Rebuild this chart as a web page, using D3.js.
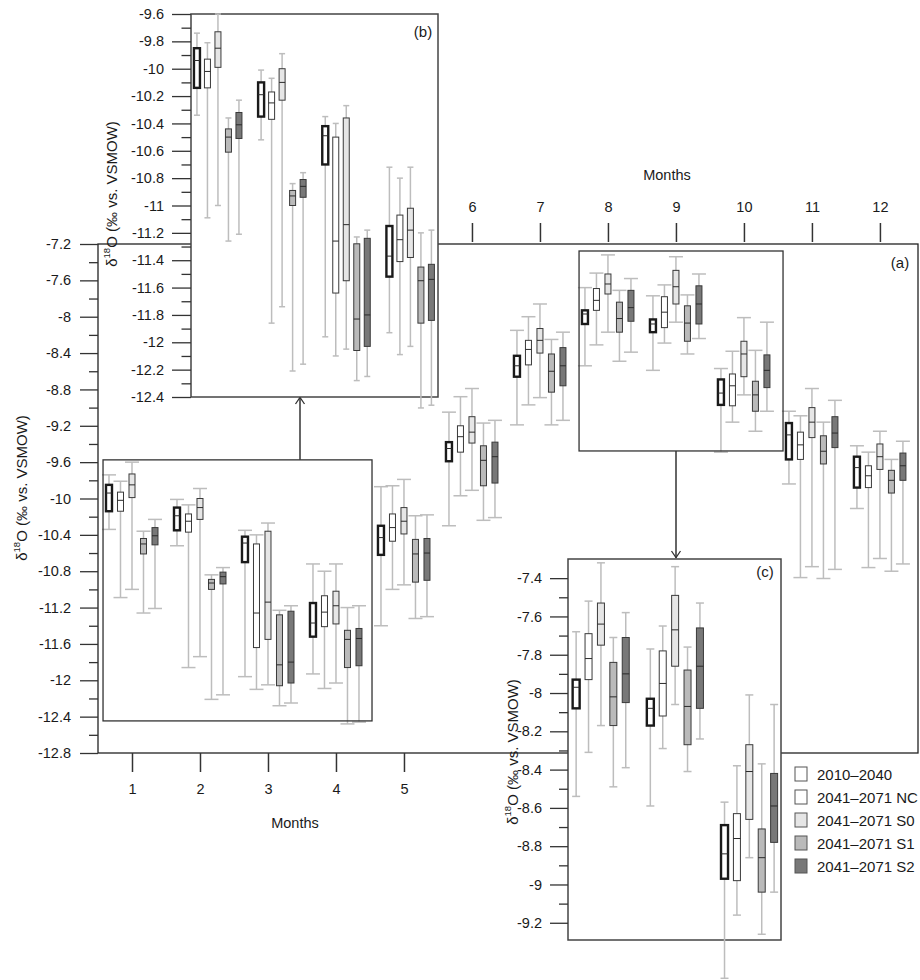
<!DOCTYPE html>
<html>
<head>
<meta charset="utf-8">
<script src="https://cdn.jsdelivr.net/npm/d3@7"></script>
<style>
  body { margin: 0; background: #fff; }
  text { font-family: "Liberation Sans", Arial, sans-serif; fill: #1a1a1a; }
</style>
</head>
<body>
<script>
// months and series
const months = [1, 2, 3, 4, 5, 6, 7, 8, 9, 10, 11, 12];
const seriesNames = ["2010\u20132040", "2041\u20132071 NC", "2041\u20132071 S0", "2041\u20132071 S1", "2041\u20132071 S2"];
const seriesFill = ["#ffffff", "#ffffff", "#e6e6e6", "#bababa", "#787878"];

// per month: [whisker low, q1, median, q3, whisker high]
const s2010 = [
  [-10.34, -10.14, -9.94, -9.85, -9.74], [-10.52, -10.35, -10.19, -10.10, -10.01],
  [-11.96, -10.70, -10.49, -10.42, -10.35], [-11.93, -11.52, -11.37, -11.15, -10.72],
  [-11.40, -10.62, -10.43, -10.30, -9.87], [-10.30, -9.59, -9.45, -9.38, -9.05],
  [-9.19, -8.66, -8.54, -8.43, -8.15], [-8.54, -8.08, -7.97, -7.93, -7.68],
  [-8.59, -8.17, -8.08, -8.03, -7.77], [-9.49, -8.97, -8.84, -8.69, -8.57],
  [-9.84, -9.57, -9.30, -9.17, -9.04], [-10.11, -9.88, -9.66, -9.54, -9.42]
];
const sNC = [
  [-11.09, -10.14, -10.02, -9.93, -9.81], [-11.86, -10.37, -10.25, -10.17, -10.07],
  [-12.10, -11.64, -11.26, -10.50, -10.40], [-12.09, -11.41, -11.25, -11.07, -10.80],
  [-11.00, -10.47, -10.32, -10.17, -9.86], [-9.97, -9.49, -9.32, -9.20, -8.88],
  [-8.97, -8.53, -8.36, -8.26, -8.00], [-8.31, -7.93, -7.82, -7.69, -7.52],
  [-8.29, -8.12, -7.95, -7.78, -7.65], [-9.16, -8.98, -8.76, -8.63, -8.38],
  [-10.87, -9.57, -9.41, -9.27, -9.09], [-10.76, -9.88, -9.75, -9.64, -9.49]
];
const sS0 = [
  [-11.00, -9.99, -9.85, -9.73, -9.60], [-11.74, -10.23, -10.10, -10.00, -9.89],
  [-12.05, -11.55, -11.14, -10.36, -10.27], [-12.03, -11.38, -11.18, -11.02, -10.72],
  [-10.95, -10.39, -10.25, -10.10, -9.79], [-9.91, -9.39, -9.27, -9.10, -8.79],
  [-8.89, -8.40, -8.26, -8.13, -7.86], [-8.17, -7.75, -7.64, -7.53, -7.32],
  [-8.06, -7.86, -7.67, -7.49, -7.34], [-8.86, -8.66, -8.41, -8.27, -8.01],
  [-10.75, -9.33, -9.16, -9.00, -8.79], [-10.66, -9.68, -9.54, -9.40, -9.26]
];
const sS1 = [
  [-11.26, -10.61, -10.50, -10.44, -10.36], [-12.21, -11.00, -10.93, -10.89, -10.84],
  [-12.28, -12.06, -11.83, -11.28, -11.23], [-12.48, -11.86, -11.55, -11.45, -11.20],
  [-11.32, -10.92, -10.61, -10.45, -10.19], [-10.24, -9.86, -9.58, -9.42, -9.17],
  [-9.19, -8.83, -8.60, -8.41, -8.25], [-8.49, -8.17, -8.02, -7.84, -7.71],
  [-8.41, -8.27, -8.07, -7.88, -7.76], [-9.26, -9.04, -8.86, -8.71, -8.37],
  [-10.88, -9.62, -9.48, -9.31, -9.16], [-10.80, -9.94, -9.80, -9.69, -9.57]
];
const sS2 = [
  [-11.21, -10.51, -10.41, -10.32, -10.23], [-12.16, -10.94, -10.86, -10.81, -10.76],
  [-12.25, -12.03, -11.80, -11.24, -11.18], [-12.46, -11.84, -11.54, -11.43, -11.18],
  [-11.30, -10.90, -10.60, -10.44, -10.18], [-10.21, -9.83, -9.54, -9.38, -9.14],
  [-9.14, -8.76, -8.54, -8.34, -8.17], [-8.39, -8.05, -7.90, -7.71, -7.58],
  [-8.24, -8.08, -7.86, -7.66, -7.53], [-9.04, -8.78, -8.59, -8.42, -8.06],
  [-10.78, -9.44, -9.28, -9.10, -8.92], [-10.72, -9.80, -9.64, -9.50, -9.37]
];
const allSeries = [s2010, sNC, sS0, sS1, sS2];

// tick labels
const mainTicks = d3.range(0, 15).map(i => -7.2 - 0.4 * i);
const bTicks = d3.range(0, 15).map(i => -9.6 - 0.2 * i);
const cTicks = d3.range(0, 10).map(i => -7.4 - 0.2 * i);

// flatten for joins
const records = [];
allSeries.forEach((s, si) => s.forEach((v, mi) => {
  records.push({ month: months[mi], series: si, lo: v[0], q1: v[1], md: v[2], q3: v[3], hi: v[4] });
}));

const svg = d3.select('body').append('svg')
  .attr('width', 920)
  .attr('height', 980);

const fmt = v => String(+v.toFixed(1));

function drawBoxes(g, x, y, monthList, sp, bw, capw) {
  const off = d3.scalePoint().domain(d3.range(5)).range([-2 * sp, 2 * sp]);
  const data = records.filter(d => monthList.includes(d.month));
  const cx = d => x(d.month) + off(d.series);
  const grp = g.selectAll('g.box').data(data).join('g').attr('class', 'box');
  grp.append('line')
    .attr('x1', cx).attr('x2', cx)
    .attr('y1', d => y(d.lo)).attr('y2', d => y(d.hi))
    .attr('stroke', '#bdbdbd').attr('stroke-width', 1.5);
  ['lo', 'hi'].forEach(k => {
    grp.append('line')
      .attr('x1', d => cx(d) - capw / 2).attr('x2', d => cx(d) + capw / 2)
      .attr('y1', d => y(d[k])).attr('y2', d => y(d[k]))
      .attr('stroke', '#bdbdbd').attr('stroke-width', 1.5);
  });
  grp.append('rect')
    .attr('x', d => cx(d) - bw / 2)
    .attr('y', d => y(d.q3))
    .attr('width', bw)
    .attr('height', d => y(d.q1) - y(d.q3))
    .attr('fill', d => seriesFill[d.series])
    .attr('stroke', d => d.series == 0 ? '#1a1a1a' : '#3a3a3a')
    .attr('stroke-width', d => d.series == 0 ? 2.4 : 1);
  grp.append('line')
    .attr('x1', d => cx(d) - bw / 2).attr('x2', d => cx(d) + bw / 2)
    .attr('y1', d => y(d.md)).attr('y2', d => y(d.md))
    .attr('stroke', '#2a2a2a').attr('stroke-width', 1);
}

function yAxis(g, y, majors, xpos, majLen, pad) {
  const minors = [];
  majors.slice(0, -1).forEach((v, i) => minors.push((v + majors[i + 1]) / 2));
  g.append('g').attr('transform', `translate(${xpos},0)`)
    .call(d3.axisLeft(y).tickValues(majors).tickSize(majLen).tickSizeOuter(0).tickPadding(pad).tickFormat(fmt))
    .call(a => a.select('.domain').remove())
    .call(a => a.selectAll('line').attr('stroke', '#333').attr('stroke-width', 1.3))
    .call(a => a.selectAll('text').attr('font-size', 14.5).attr('fill', '#1a1a1a')
      .attr('font-family', '"Liberation Sans", Arial, sans-serif'));
  g.append('g').attr('transform', `translate(${xpos},0)`)
    .call(d3.axisLeft(y).tickValues(minors).tickSize(majLen / 2).tickFormat(''))
    .call(a => a.select('.domain').remove())
    .call(a => a.selectAll('line').attr('stroke', '#333').attr('stroke-width', 1.3));
}

function yTitle(g, x, y) {
  const t = g.append('text')
    .attr('transform', `translate(${x},${y}) rotate(-90)`)
    .attr('text-anchor', 'middle')
    .attr('dominant-baseline', 'central')
    .attr('font-size', 15);
  t.append('tspan').text('\u03b4');
  t.append('tspan').attr('font-size', 9.5).attr('dy', -5).text('18');
  t.append('tspan').attr('dy', 5).text('O (\u2030 vs. VSMOW)');
}

// ---------- main panel (a)
const xMain = d3.scaleLinear().domain([0.5, 12.56]).range([98, 918]);
const yMain = d3.scaleLinear().domain([-12.8, -7.2]).range([753, 244]);

const gA = svg.append('g');
gA.append('rect')
  .attr('x', xMain(0.5)).attr('y', yMain(-7.2))
  .attr('width', xMain(12.56) - xMain(0.5)).attr('height', yMain(-12.8) - yMain(-7.2))
  .attr('fill', 'none').attr('stroke', '#222').attr('stroke-width', 1.3);
yAxis(gA, yMain, mainTicks, xMain(0.5), 18, 9);

gA.append('g').attr('transform', `translate(0,${yMain(-12.8)})`)
  .call(d3.axisBottom(xMain).tickValues([1, 2, 3, 4, 5]).tickSize(19).tickPadding(12).tickFormat(d3.format('d')))
  .call(a => a.select('.domain').remove())
  .call(a => a.selectAll('line').attr('stroke', '#333').attr('stroke-width', 1.5))
  .call(a => a.selectAll('text').attr('font-size', 14.5).attr('fill', '#1a1a1a')
    .attr('font-family', '"Liberation Sans", Arial, sans-serif'));
gA.append('g').attr('transform', `translate(0,${yMain(-7.2) - 2})`)
  .call(d3.axisTop(xMain).tickValues([6, 7, 8, 9, 10, 11, 12]).tickSize(19).tickPadding(11).tickFormat(d3.format('d')))
  .call(a => a.select('.domain').remove())
  .call(a => a.selectAll('line').attr('stroke', '#333').attr('stroke-width', 1.5))
  .call(a => a.selectAll('text').attr('font-size', 14.5).attr('fill', '#1a1a1a')
    .attr('font-family', '"Liberation Sans", Arial, sans-serif'));

gA.append('text').attr('x', 295).attr('y', 828).attr('text-anchor', 'middle').attr('font-size', 14.5).text('Months');
gA.append('text').attr('x', 667).attr('y', 180).attr('text-anchor', 'middle').attr('font-size', 14.5).text('Months');
gA.append('text').attr('x', 900).attr('y', 268).attr('text-anchor', 'middle').attr('font-size', 15).text('(a)');
yTitle(gA, 21, 488);

drawBoxes(gA.append('g'), xMain, yMain, months, 11.5, 6, 14);

// zoom rectangles in (a)
const rectB = { m0: 0.574, m1: 4.53, v0: -9.575, v1: -12.447 };
const rectC = { m0: 7.575, m1: 10.575, v0: -7.277, v1: -9.477 };
[rectB, rectC].forEach(r => {
  gA.append('rect')
    .attr('x', xMain(r.m0)).attr('y', yMain(r.v0))
    .attr('width', xMain(r.m1) - xMain(r.m0)).attr('height', yMain(r.v1) - yMain(r.v0))
    .attr('fill', 'none').attr('stroke', '#333').attr('stroke-width', 1.3);
});

// arrows
function arrow(x, y1, y2) {
  const dir = y2 < y1 ? 1 : -1;
  gA.append('line').attr('x1', x).attr('x2', x).attr('y1', y1).attr('y2', y2)
    .attr('stroke', '#333').attr('stroke-width', 1.5);
  gA.append('path')
    .attr('d', `M${x - 4.5},${y2 + dir * 7}L${x},${y2 + dir * 0.5}L${x + 4.5},${y2 + dir * 7}`)
    .attr('fill', 'none').attr('stroke', '#333').attr('stroke-width', 1.3);
}
arrow(300, yMain(rectB.v0), 397);
arrow(676, yMain(rectC.v1), 558);

// ---------- inset (b)
const xB = d3.scaleLinear().domain([0.58, 4.43]).range([191, 438]);
const yB = d3.scaleLinear().domain([-12.4, -9.6]).range([397, 14]);
const gB = svg.append('g');
gB.append('rect')
  .attr('x', xB(0.58)).attr('y', yB(-9.6))
  .attr('width', xB(4.43) - xB(0.58)).attr('height', yB(-12.4) - yB(-9.6))
  .attr('fill', '#fff').attr('stroke', '#444').attr('stroke-width', 1.5);
drawBoxes(gB.append('g'), xB, yB, [1, 2, 3, 4], 10.5, 6, 6);
yAxis(gB, yB, bTicks, xB(0.58), 19, 8);
gB.append('text').attr('x', 423).attr('y', 37).attr('text-anchor', 'middle').attr('font-size', 15).text('(b)');
yTitle(gB, 111, 194);

// ---------- inset (c)
const xC = d3.scaleLinear().domain([7.556, 10.427]).range([568, 781]);
const yC = d3.scaleLinear().domain([-9.29, -7.3]).range([940, 559]);
const gC = svg.append('g');
gC.append('rect')
  .attr('x', xC(7.556)).attr('y', yC(-7.3))
  .attr('width', xC(10.427) - xC(7.556)).attr('height', yC(-9.29) - yC(-7.3))
  .attr('fill', '#fff').attr('stroke', '#444').attr('stroke-width', 1.5);
drawBoxes(gC.append('g'), xC, yC, [8, 9, 10], 12.4, 7, 8);
yAxis(gC, yC, cTicks, xC(7.556), 18, 8);
gC.append('text').attr('x', 765).attr('y', 577).attr('text-anchor', 'middle').attr('font-size', 15).text('(c)');
yTitle(gC, 512, 752);

// ---------- legend
const legY = d3.scalePoint().domain(d3.range(5)).range([774, 866]);
const leg = svg.append('g').selectAll('g').data(seriesNames).join('g')
  .attr('transform', (d, i) => `translate(795,${legY(i)})`);
leg.append('rect').attr('x', 0).attr('y', -7).attr('width', 12).attr('height', 14)
  .attr('fill', (d, i) => seriesFill[i]).attr('stroke', '#555').attr('stroke-width', 1);
leg.append('text').attr('x', 22).attr('y', 0).attr('dominant-baseline', 'central')
  .attr('font-size', 15).text(d => d);
</script>
</body>
</html>
